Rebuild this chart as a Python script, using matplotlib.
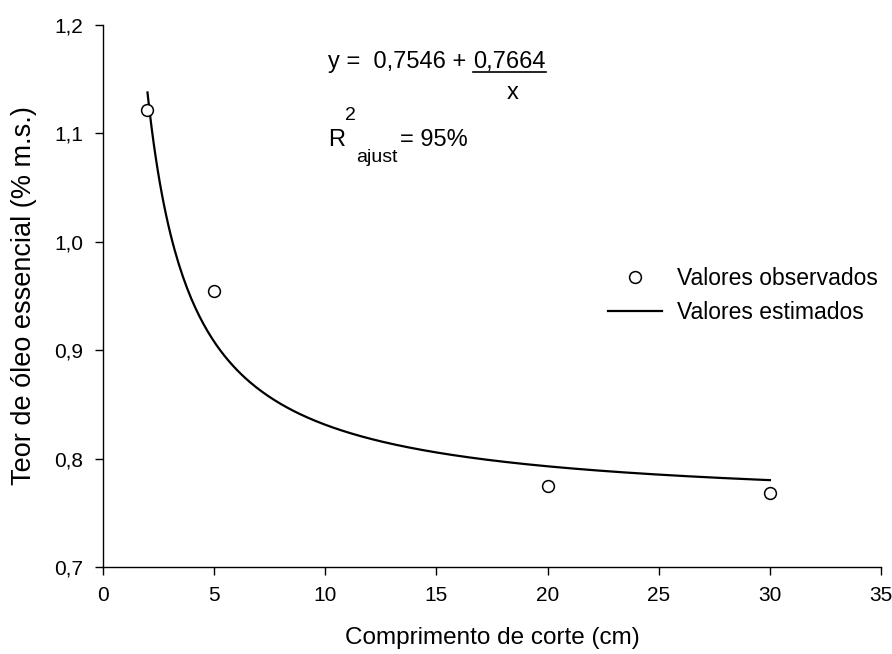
import matplotlib
matplotlib.use("Agg")
import matplotlib.pyplot as plt
import numpy as np

plt.rcParams['font.family'] = ['Liberation Sans', 'DejaVu Sans']

# observed values
comprimento = [2, 5, 20, 30]
teor_obs = [1.122, 0.955, 0.775, 0.768]

# fitted model y = a + b/x
a = 0.7546
b = 0.7664
x_fit = np.linspace(2, 30, 300)
y_fit = a + b / x_fit

xticks = [0, 5, 10, 15, 20, 25, 30, 35]
yticks = [0.7, 0.8, 0.9, 1.0, 1.1, 1.2]
ytick_labels = ['0,7', '0,8', '0,9', '1,0', '1,1', '1,2']

fig = plt.figure(figsize=(8.92, 6.54), dpi=100)
ax = fig.add_axes([0.1155, 0.133, 0.8722, 0.8287])

ax.plot(comprimento, teor_obs, 'o', mfc='white', mec='black', ms=8.5, mew=1.1,
        label='Valores observados', zorder=3)
ax.plot(x_fit, y_fit, color='black', lw=1.6, label='Valores estimados')

ax.set_xlim(0, 35)
ax.set_ylim(0.7, 1.2)
ax.set_xticks(xticks)
ax.set_yticks(yticks)
ax.set_yticklabels(ytick_labels)
ax.tick_params(direction='out', length=6, width=1, labelsize=15, pad=8)
for s in ['top', 'right']:
    ax.spines[s].set_visible(False)
for s in ['left', 'bottom']:
    ax.spines[s].set_linewidth(1)

ax.set_xlabel('Comprimento de corte (cm)', fontsize=17.5, va='top')
ax.xaxis.set_label_coords(0.5, -0.11)
ax.set_ylabel('Teor de óleo essencial (% m.s.)', fontsize=19.5, va='center')
ax.yaxis.set_label_coords(-0.1015, 0.5)

# equation
fs = 17
ax.text(10.12, 1.1659, 'y =  0,7546 +', fontsize=fs, va='center', ha='left')
ax.text(16.64, 1.1659, '0,7664', fontsize=fs, va='center', ha='left')
ax.plot([16.64, 19.93], [1.1567, 1.1567], color='black', lw=1.2)
ax.text(18.44, 1.1373, 'x', fontsize=fs, va='center', ha='center')
ax.text(11.11, 1.117, '2', fontsize=14, va='center', ha='center')
ax.text(10.12, 1.094, 'R', fontsize=fs, va='center', ha='left')
ax.text(11.38, 1.0774, 'ajust', fontsize=14, va='center', ha='left')
ax.text(13.36, 1.094, '= 95%', fontsize=fs, va='center', ha='left')

ax.legend(loc='upper left', bbox_to_anchor=(608 / 892, 1 - 267 / 654),
          bbox_transform=fig.transFigure, frameon=False, borderpad=0,
          borderaxespad=0, fontsize=16.5, handlelength=2.36,
          handletextpad=0.65, labelspacing=0.48)

fig.savefig('out.png', dpi=100)
